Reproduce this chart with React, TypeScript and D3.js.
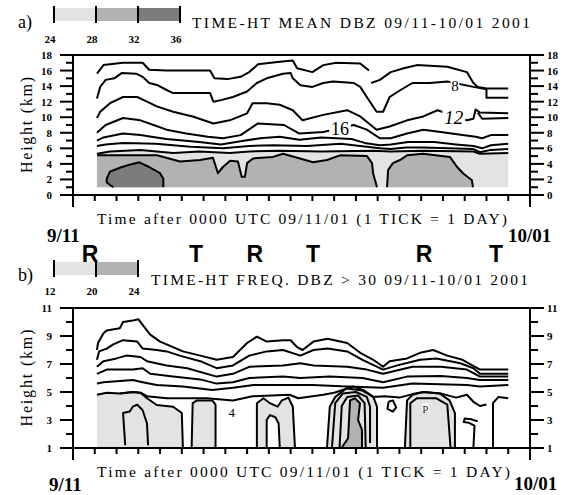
import React from 'react';
import * as d3 from 'd3';

type P = [number, number]; // [day after 9/11, height km]

// a) TIME-HT MEAN DBZ — contour lines
const meanL1a: P[] = [[1.1,15.6],[1.4,16.7],[2.0,16.9],[2.3,17.0],[3.2,17.0],[3.5,16.1],[4.3,16.0],[6.3,16.0],[6.5,15.0],[7.1,14.9],[7.7,15.2],[8.1,15.8],[8.5,16.8],[9.4,17.1],[10.1,17.3],[10.3,16.3],[11.0,15.8],[11.5,16.7],[12.1,17.0],[13.2,16.9],[13.6,16.0]];
const meanL1b: P[] = [[13.7,14.4],[14.1,14.8],[14.6,15.8],[15.2,16.3],[15.8,16.7],[17.2,16.5],[18.1,15.8],[18.4,14.4],[18.6,13.9],[19.0,13.7],[20.0,13.7]];
const meanL2: P[] = [[1.1,12.4],[1.25,13.9],[1.5,14.8],[1.9,15.0],[2.25,15.7],[2.9,15.6],[3.2,15.2],[3.5,14.4],[3.9,14.1],[4.3,13.5],[4.6,13.1],[6.3,13.1],[6.45,12.0],[6.8,12.2],[7.35,12.6],[8.0,13.3],[8.45,14.4],[8.9,15.0],[9.65,15.6],[10.0,15.7],[10.1,15.0],[10.45,14.1],[11.0,13.9],[11.5,14.4],[11.95,14.6],[12.9,14.4],[13.2,13.9],[13.5,12.6],[13.95,10.7],[14.25,10.7],[14.55,12.6],[15.05,13.5],[15.6,14.4],[16.4,14.4],[17.2,14.6],[18.4,13.9],[19.0,13.6],[19.0,12.5],[20.0,12.5]];
const meanL3: P[] = [[1.1,9.9],[1.25,10.7],[1.7,11.8],[2.3,12.6],[2.95,12.6],[3.4,12.0],[3.85,11.4],[4.6,10.7],[5.5,10.1],[6.45,9.2],[7.2,9.6],[8.0,10.5],[8.25,11.8],[8.9,11.8],[9.5,11.6],[10.1,10.9],[10.55,9.6],[11.5,10.3],[12.6,10.9],[13.2,10.1],[13.95,8.4],[14.55,8.8],[15.35,9.6],[16.1,10.1],[16.75,10.9],[17.5,10.2],[18.1,9.6],[18.4,9.8],[18.5,11.0],[18.7,10.6],[20.0,10.5]];
const meanL3loop: P[] = [[18.6,10.6],[18.8,9.8],[20.0,9.9]];
const meanL4: P[] = [[1.1,8.0],[1.5,9.0],[2.3,9.9],[3.1,9.6],[3.7,9.0],[4.3,8.4],[5.2,7.9],[6.2,7.5],[6.9,7.3],[7.7,7.7],[8.5,9.2],[9.7,9.0],[10.4,7.9],[11.5,8.1],[12.3,8.6],[12.9,9.0],[13.5,8.4],[14.1,7.3],[14.6,7.3],[15.35,7.9],[16.1,8.4],[16.9,8.1],[17.9,7.7],[18.5,7.5],[18.8,7.3],[19.2,7.7],[20.0,7.7]];
const meanL5: P[] = [[1.1,7.0],[1.4,7.4],[2.3,7.9],[3.1,7.7],[3.6,7.5],[4.3,7.2],[5.8,6.8],[6.8,6.5],[7.7,6.9],[8.6,7.3],[9.5,7.5],[10.4,7.1],[11.4,7.4],[12.8,7.2],[13.4,6.7],[14.1,6.4],[14.6,6.5],[15.4,6.8],[16.6,6.8],[17.6,6.5],[18.4,6.3],[18.8,6.0],[19.2,6.4],[20.0,6.6]];
const meanL6: P[] = [[1.1,6.3],[1.5,6.5],[2.3,6.7],[3.8,6.6],[5.4,6.2],[6.9,6.0],[8.1,6.3],[9.2,6.4],[10.75,6.3],[12.3,6.6],[14.1,6.0],[14.6,5.9],[15.3,6.1],[16.1,6.1],[18.4,5.9],[18.7,5.5],[19.2,5.8],[20.0,5.9]];
const mean24: P[] = [[1.1,5.3],[1.7,5.6],[3.1,5.8],[4.6,5.4],[5.8,5.6],[7.2,5.4],[8.1,5.6],[9.5,5.7],[11.4,5.6],[13.8,5.7],[14.6,5.6],[16.1,5.7],[18.4,5.6],[18.7,5.3],[20.0,5.4]];
const mean28a: P[] = [[1.1,1.0],[1.1,5.1],[3.86,5.1],[4.92,4.3],[5.84,4.5],[6.43,4.8],[6.66,2.8],[6.89,3.6],[7.22,4.4],[7.58,4.3],[7.75,2.35],[7.9,2.35],[8.0,4.1],[8.27,4.7],[9.19,4.9],[9.65,5.3],[10.43,4.7],[11.03,4.2],[11.67,4.5],[12.27,5.1],[13.51,5.0],[13.74,4.1],[13.79,2.8],[13.97,1.0]];
const mean28b: P[] = [[14.43,1.0],[14.48,3.2],[14.7,4.1],[15.03,4.5],[15.35,5.1],[16.08,5.3],[17.32,4.9],[17.65,3.6],[17.92,2.8],[18.33,1.9],[18.38,1.0]];
const mean32: P[] = [[1.85,1.0],[1.55,1.6],[1.55,2.1],[1.7,3.0],[2.15,3.5],[2.6,3.9],[3.05,4.2],[3.5,3.6],[4.0,2.8],[4.15,2.1],[4.15,1.0]];
const meanLabels = [{ t: '16', d: 12.27, h: 8.55, s: 18, it: false }, { t: '12', d: 17.5, h: 10.0, s: 19, it: true }, { t: '8', d: 17.55, h: 14.05, s: 15, it: false }];

// b) TIME-HT FREQ. DBZ > 30 — contour lines
const freqL1: P[] = [[1.1,8.0],[1.15,8.5],[1.4,9.2],[1.55,9.4],[2.15,9.55],[2.3,10.0],[2.75,10.1],[3.0,10.2],[3.2,9.8],[3.55,9.1],[4.0,8.6],[4.3,8.4],[5.05,7.9],[5.85,7.6],[6.6,7.3],[7.35,7.5],[8.0,8.5],[8.45,8.95],[8.9,8.6],[9.65,8.7],[10.0,8.7],[10.3,8.2],[10.55,8.0],[11.05,8.6],[11.7,8.8],[12.6,8.5],[13.2,7.8],[13.8,7.3],[14.25,6.8],[14.55,7.2],[15.35,7.4],[15.95,7.8],[16.55,8.0],[17.2,7.6],[17.9,7.3],[18.7,6.6],[20.0,6.6]];
const freqL2: P[] = [[1.1,7.3],[1.2,7.9],[1.55,8.1],[1.85,8.4],[2.3,8.7],[2.95,8.6],[3.2,8.1],[3.85,8.0],[4.3,7.9],[4.9,7.6],[5.85,7.2],[6.6,6.7],[7.35,6.9],[8.1,7.6],[8.9,7.9],[9.65,8.0],[10.45,7.6],[11.05,8.0],[11.7,8.1],[12.6,7.9],[13.3,7.3],[14.25,6.6],[14.9,6.9],[15.95,7.3],[16.7,7.4],[17.8,7.05],[18.4,6.7],[18.7,6.3],[20.0,6.3]];
const freqL3: P[] = [[1.1,6.8],[1.4,7.2],[2.0,7.4],[2.45,7.6],[3.1,7.5],[3.4,7.2],[4.3,6.9],[5.25,6.7],[6.6,6.1],[7.35,6.3],[8.1,6.8],[9.65,6.9],[10.45,7.05],[11.05,6.9],[12.6,6.8],[13.5,6.6],[14.25,6.3],[15.6,6.8],[16.9,6.8],[18.1,6.6],[18.7,6.1],[20.0,6.1]];
const freqL4: P[] = [[1.1,6.3],[1.55,6.6],[2.75,6.6],[3.2,6.7],[3.55,6.3],[4.6,6.1],[5.85,5.9],[6.6,5.6],[7.35,5.7],[8.1,6.0],[9.65,6.1],[10.45,6.0],[11.8,6.1],[13.3,6.0],[14.25,5.7],[15.35,6.1],[16.9,6.15],[18.1,6.0],[18.7,5.85],[20.0,5.85]];
const freqL5: P[] = [[1.1,5.6],[1.4,5.7],[2.75,5.85],[3.2,5.7],[3.85,5.5],[5.05,5.4],[6.4,5.15],[7.35,5.3],[8.3,5.5],[9.65,5.5],[11.0,5.5],[12.6,5.4],[14.25,5.3],[15.6,5.6],[18.1,5.5],[18.7,5.4],[20.0,5.5]];
const freqL6: P[] = [[1.1,4.8],[1.55,4.95],[2.15,4.9],[2.75,5.0],[3.1,4.95],[3.4,4.7],[4.3,4.55],[5.25,4.55],[6.15,4.55],[7.35,4.4],[8.25,4.7],[9.95,4.8],[10.35,4.55],[11.5,4.8],[12.0,4.95],[12.6,5.25],[13.3,5.1],[13.8,4.65],[14.3,4.7],[15.0,4.6],[15.6,4.85],[16.1,5.0],[16.9,4.9],[17.6,4.6],[18.1,4.8],[18.4,4.3],[18.7,4.0],[19.0,4.1]];
const freq12a: P[] = [[1.1,1.0],[1.1,4.8],[1.55,4.95],[2.15,4.9],[2.75,5.0],[3.1,4.95],[3.4,4.55],[3.85,4.07],[4.6,3.95],[5.0,3.5],[5.05,1.0]];
const freq12b: P[] = [[5.45,1.0],[5.5,4.2],[5.7,4.4],[6.4,4.4],[6.55,4.1],[6.55,1.0]];
const freq12c: P[] = [[8.45,1.0],[8.45,4.2],[8.75,4.55],[9.05,4.2],[9.4,3.95],[9.6,4.4],[9.9,4.6],[10.1,3.95],[10.2,1.0]];
const freq12cHole: P[] = [[8.9,1.0],[8.9,3.0],[9.05,3.35],[9.3,3.2],[9.45,2.75],[9.5,1.0]];
const freq12d: P[] = [[11.67,1.0],[11.8,3.95],[12.05,4.65],[12.6,5.3],[12.87,5.4],[13.33,5.15],[13.8,4.65],[13.97,3.95],[13.97,1.0]];
const freq12e: P[] = [[15.25,1.0],[15.35,4.4],[15.6,4.8],[16.1,5.0],[16.85,4.9],[17.3,4.4],[17.55,3.5],[17.55,1.0]];
const freq20: P[] = [[12.36,1.05],[12.64,1.7],[12.73,4.4],[12.96,4.55],[13.19,4.2],[13.1,3.0],[13.28,2.3],[13.28,1.05]];
const freqInner: P[][] = [
  [[2.4,1.2],[2.3,3.5],[2.6,3.6],[2.75,3.95],[2.95,4.1],[3.2,3.7],[3.4,2.75],[3.45,1.2]],
  [[11.9,1.05],[12.05,4.2],[12.4,4.9],[13.0,5.0],[13.5,4.65],[13.65,3.95],[13.65,1.35]],
  [[12.25,1.05],[12.35,4.0],[12.6,4.65],[13.1,4.75],[13.4,4.2],[13.45,1.05]],
  [[15.5,1.0],[15.5,4.2],[15.8,4.55],[16.7,4.55],[17.2,4.1],[17.35,1.0]],
  [[18.4,1.0],[18.45,2.6],[18.2,2.8],[17.95,2.85],[18.0,3.1],[18.3,3.05],[18.6,2.9]],
  [[19.3,1.0],[19.3,4.2],[19.55,4.65],[20.0,4.55]],
  [[14.5,4.3],[14.45,3.8],[14.7,3.6],[14.85,3.9],[14.7,4.4],[14.5,4.3]],
];
const freqLabels = [{ t: '4', d: 7.3, h: 3.5, s: 13, it: false }, { t: 'p', d: 16.2, h: 3.9, s: 11, it: false }];

// legends, axis labels, annotation row
const legendA = ['24', '28', '32', '36'];
const legendB = ['12', '20', '24'];
const ticksA = d3.range(0, 19, 2);
const ticksB = d3.range(1, 12, 2);
const regimes = [{ t: 'R', d: 0.78 }, { t: 'T', d: 5.65 }, { t: 'R', d: 8.36 }, { t: 'T', d: 11.03 }, { t: 'R', d: 16.13 }, { t: 'T', d: 19.44 }];

const LIGHT = '#e3e3e3';
const MID = '#b2b2b2';
const DARK = '#7c7c7c';
const serif = '"Liberation Serif", "Times New Roman", serif';

const x = d3.scaleLinear().domain([0, 21]).range([73, 530]);
const yA = d3.scaleLinear().domain([0, 18]).range([195, 55]);
const yB = d3.scaleLinear().domain([1, 11]).range([448, 308]);
const days = d3.range(1, 21);

type Y = d3.ScaleLinear<number, number>;
const liner = (y: Y) => d3.line<P>().x(p => x(p[0])).y(p => y(p[1]));

function Frame({ y, lo, hi, labels }: { y: Y; lo: number; hi: number; labels: number[] }) {
  const b = y(lo), t = y(hi);
  return (
    <g>
      <g stroke="#000" strokeWidth={2} fill="none">
        <path d={`M${x(0)},${t}H${x(21)}M${x(0)},${b}H${x(21)}M${x(0)},${t}V${b + 12}M${x(21)},${t}V${b + 12}`} />
        {days.map(d => <line key={d} x1={x(d)} x2={x(d)} y1={b} y2={b + 6} />)}
        {d3.range(lo, hi + 1).map(v => {
          const m = labels.includes(v);
          return (
            <g key={v}>
              <line x1={x(0) - (m ? 13 : 7)} x2={x(0)} y1={y(v)} y2={y(v)} />
              <line x1={x(21)} x2={x(21) + (m ? 14 : 8)} y1={y(v)} y2={y(v)} />
            </g>
          );
        })}
      </g>
      <g fontFamily={serif} fontWeight="bold" fontSize={11}>
        {labels.map(v => (
          <g key={v}>
            <text x={52} y={y(v) + 4} textAnchor="end">{v}</text>
            <text x={547} y={y(v) + 4}>{v}</text>
          </g>
        ))}
      </g>
    </g>
  );
}

function Legend({ labels, top, labelY }: { labels: string[]; top: number; labelY: number }) {
  const lx = d3.scalePoint<string>().domain(labels).range([54, 54 + 42 * (labels.length - 1)]);
  const fills = [LIGHT, MID, DARK];
  return (
    <g>
      {labels.slice(1).map((l, i) => (
        <rect key={l + i} x={lx(labels[i])!} y={top + 2} width={lx(l)! - lx(labels[i])!} height={13} fill={fills[i]} />
      ))}
      {labels.map((l, i) => (
        <line key={i} x1={lx(l)} x2={lx(l)} y1={top} y2={top + 17} stroke="#000" strokeWidth={2} />
      ))}
      {labels.map((l, i) => (
        <text key={'t' + i} x={lx(l)! - 4} y={labelY} textAnchor="middle" fontFamily={serif} fontWeight="bold" fontSize={11}>{l}</text>
      ))}
    </g>
  );
}

function Labels({ y, items }: { y: Y; items: { t: string; d: number; h: number; s: number; it: boolean }[] }) {
  return (
    <g fontFamily={serif}>
      {items.map((l, i) => (
        <g key={i}>
          <rect x={x(l.d) - l.s * 0.3 * l.t.length} y={y(l.h) - l.s * 0.38} width={l.s * 0.6 * l.t.length} height={l.s * 0.76} fill="#fff" />
          <text x={x(l.d)} y={y(l.h) + l.s * 0.34} textAnchor="middle" fontSize={l.s} fontStyle={l.it ? 'italic' : 'normal'}>{l.t}</text>
        </g>
      ))}
    </g>
  );
}

export default function App() {
  const la = liner(yA);
  const lb = liner(yB);
  const areaA = d3.area<P>().x(p => x(p[0])).y0(yA(1)).y1(p => yA(p[1]));
  const line = { fill: 'none', stroke: '#000', strokeWidth: 2, strokeLinejoin: 'round' as const };
  const xTitle = 'Time after 0000 UTC 09/11/01 (1 TICK = 1 DAY)';

  return (
    <svg width={568} height={495} style={{ position: 'absolute', left: 0, top: 0, background: '#fff' }}>
      {/* panel a */}
      <text x={18} y={28} fontFamily={serif} fontSize={18}>a)</text>
      <Legend labels={legendA} top={6} labelY={43} />
      <text x={192} y={28} fontFamily={serif} fontSize={15.5} textLength={338} lengthAdjust="spacing">TIME-HT MEAN DBZ 09/11-10/01 2001</text>

      <path d={areaA(mean24)!} fill={LIGHT} />
      <path d={la(mean28a)! + 'Z'} fill={MID} />
      <path d={la(mean28b)! + 'Z'} fill={MID} />
      <path d={la(mean32)! + 'Z'} fill={DARK} />
      <path d={la(mean28a.slice(1))!} {...line} />
      <path d={la(mean28b)!} {...line} />
      <path d={la(mean32)!} {...line} />
      {[mean24, meanL6, meanL5, meanL4, meanL3, meanL3loop, meanL2, meanL1a, meanL1b].map((s, i) => (
        <path key={i} d={la(s)!} {...line} />
      ))}
      <Labels y={yA} items={meanLabels} />
      <Frame y={yA} lo={0} hi={18} labels={ticksA} />
      <text transform={`translate(32,${yA(9)}) rotate(-90)`} textAnchor="middle" fontFamily={serif} fontSize={16} textLength={96} lengthAdjust="spacing">Height (km)</text>
      <text x={97} y={yA(0) + 29} fontFamily={serif} fontSize={15.5} textLength={410} lengthAdjust="spacing">{xTitle}</text>
      <g fontFamily={serif} fontWeight="bold" fontSize={19}>
        <text x={47} y={242}>9/11</text>
        <text x={508} y={242}>10/01</text>
      </g>
      <g fontFamily='"Liberation Sans", Arial, sans-serif' fontWeight="bold" fontSize={23} textAnchor="middle">
        {regimes.map((r, i) => <text key={i} x={x(r.d)} y={262}>{r.t}</text>)}
      </g>

      {/* panel b */}
      <text x={18} y={281} fontFamily={serif} fontSize={18}>b)</text>
      <Legend labels={legendB} top={260} labelY={295} />
      <text x={151} y={285} fontFamily={serif} fontSize={15.5} textLength={377} lengthAdjust="spacing">TIME-HT FREQ. DBZ &gt; 30 09/11-10/01 2001</text>

      {[freq12a, freq12b, freq12c, freq12d, freq12e].map((s, i) => (
        <path key={i} d={lb(s)! + 'Z'} fill={LIGHT} />
      ))}
      <path d={lb(freq12cHole)! + 'Z'} fill="#fff" />
      <path d={lb(freq20)! + 'Z'} fill={MID} />
      {[freq12a.slice(3), freq12b, freq12c, freq12cHole, freq12d, freq12e, freq20, ...freqInner].map((s, i) => (
        <path key={i} d={lb(s)!} {...line} />
      ))}
      {[freqL6, freqL5, freqL4, freqL3, freqL2, freqL1].map((s, i) => (
        <path key={i} d={lb(s)!} {...line} />
      ))}
      <Labels y={yB} items={freqLabels} />
      <Frame y={yB} lo={1} hi={11} labels={ticksB} />
      <text transform={`translate(32,${yB(6)}) rotate(-90)`} textAnchor="middle" fontFamily={serif} fontSize={16} textLength={97} lengthAdjust="spacing">Height (km)</text>
      <text x={97} y={yB(1) + 29} fontFamily={serif} fontSize={15.5} textLength={413} lengthAdjust="spacing">{xTitle}</text>
      <g fontFamily={serif} fontWeight="bold" fontSize={19}>
        <text x={49} y={491}>9/11</text>
        <text x={514} y={490}>10/01</text>
      </g>
    </svg>
  );
}
